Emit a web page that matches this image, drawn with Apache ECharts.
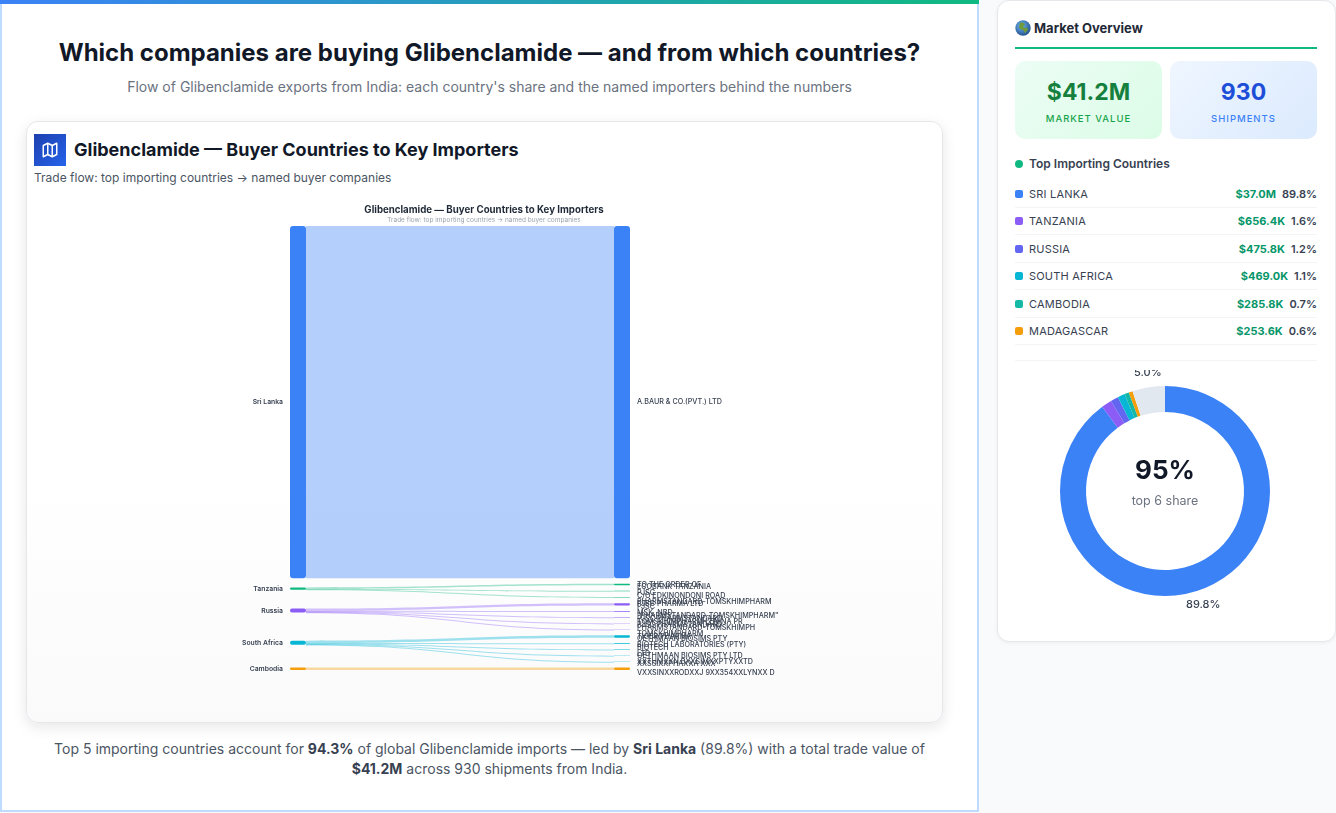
<!DOCTYPE html>
<html>
<head>
<meta charset="utf-8">
<script src="https://cdn.jsdelivr.net/npm/echarts@6/dist/echarts.min.js"></script>
<style>
* { box-sizing: border-box; }
html, body { margin: 0; width: 1336px; height: 813px; overflow: hidden; background: #f8fafc; font-family: Inter, sans-serif; color: #111827; }
.main { position: absolute; left: 0; top: 0; width: 979px; height: 812px; background: #fff; border: 2px solid #bfdbfe; border-top: 0; border-right-width: 2px; }
.topbar { position: absolute; left: 0; top: 0; width: 979px; height: 4px; background: linear-gradient(90deg, #3b82f6, #10b981); }
h1 { position: absolute; left: 0; top: 38px; width: 979px; margin: 0; text-align: center; font-size: 24px; line-height: 30px; font-weight: 700; color: #111827; }
.sub { position: absolute; left: 0; top: 78px; width: 979px; text-align: center; font-size: 14px; line-height: 18px; color: #6b7280; }
.card { position: absolute; left: 26px; top: 121px; width: 917px; height: 602px; border: 1px solid #e5e7eb; border-radius: 12px; background: linear-gradient(180deg, #fff 60%, #fafafb 100%); box-shadow: 0 4px 14px rgba(15, 23, 42, .10); }
.icon { position: absolute; left: 34px; top: 134px; width: 32px; height: 32px; background: linear-gradient(135deg, #1e40af, #2563eb); display: flex; align-items: center; justify-content: center; }
.ctitle { position: absolute; left: 74px; top: 138px; font-size: 18px; line-height: 23px; font-weight: 700; color: #111827; }
.csub { position: absolute; left: 34px; top: 170px; font-size: 12px; line-height: 15px; color: #4b5563; }
#sankey { position: absolute; left: 34px; top: 195px; width: 900px; height: 510px; }
.foot { position: absolute; left: 0; top: 739px; width: 979px; text-align: center; font-size: 14px; line-height: 20px; color: #4b5563; }
.foot b { color: #374151; }
.side { position: absolute; left: 997px; top: 0; width: 339px; height: 642px; background: #fff; border: 1px solid #e5e7eb; border-radius: 12px; box-shadow: 0 1px 4px rgba(15, 23, 42, .05); }
.stitle { position: absolute; left: 1034px; top: 20px; font-size: 13px; line-height: 17px; font-weight: 700; color: #1f2937; }
.globe { position: absolute; left: 1015px; top: 20px; }
.rule { position: absolute; left: 1015px; top: 47px; width: 302px; height: 2px; background: #10b981; }
.kpi { position: absolute; top: 61px; width: 147px; height: 78px; border-radius: 10px; text-align: center; }
.kpi .v { position: absolute; left: 0; width: 100%; top: 16px; font-size: 23px; line-height: 30px; font-weight: 700; }
.kpi .l { position: absolute; left: 0; width: 100%; top: 52px; font-size: 9.5px; line-height: 12px; font-weight: 500; letter-spacing: 1px; }
.k1 { left: 1015px; background: linear-gradient(135deg, #ecfdf5, #dcfce7); }
.k1 .v { color: #15803d; } .k1 .l { color: #16a34a; }
.k2 { left: 1170px; background: linear-gradient(135deg, #eff6ff, #dbeafe); }
.k2 .v { color: #1d4ed8; } .k2 .l { color: #3b82f6; }
.dot { position: absolute; left: 1015px; top: 160px; width: 8px; height: 8px; border-radius: 50%; background: #10b981; }
.thead { position: absolute; left: 1029px; top: 156px; font-size: 12px; line-height: 15px; font-weight: 600; color: #374151; }
.row { position: absolute; left: 1015px; width: 302px; height: 28px; border-bottom: 1px solid #f3f4f6; font-size: 11px; line-height: 28px; display: flex; justify-content: flex-end; gap: 6px; }
.row i { position: absolute; left: 0; top: 10px; width: 8px; height: 8px; border-radius: 2px; }
.row .n { position: absolute; left: 14px; color: #374151; letter-spacing: .2px; }
.row .a { color: #059669; font-weight: 700; }
.row .p { color: #374151; font-weight: 600; }
.div2 { position: absolute; left: 1015px; top: 360px; width: 302px; height: 1px; background: #f3f4f6; }
#pie { position: absolute; left: 1015px; top: 370px; width: 302px; height: 250px; }
.big { position: absolute; left: 1015px; top: 453px; width: 300px; text-align: center; font-size: 26px; line-height: 34px; font-weight: 700; color: #111827; }
.small { position: absolute; left: 1015px; top: 493px; width: 300px; text-align: center; font-size: 12.5px; line-height: 16px; color: #6b7280; }
</style>
</head>
<body>
<div class="main"></div>
<div class="topbar"></div>
<h1>Which companies are buying Glibenclamide — and from which countries?</h1>
<div class="sub">Flow of Glibenclamide exports from India: each country's share and the named importers behind the numbers</div>
<div class="card"></div>
<div class="icon"><svg width="18" height="18" viewBox="0 0 24 24" fill="none" stroke="#fff" stroke-width="2" stroke-linejoin="round"><path d="M3 6l6-3 6 3 6-3v15l-6 3-6-3-6 3z"/><path d="M9 3v15M15 6v15"/></svg></div>
<div class="ctitle">Glibenclamide — Buyer Countries to Key Importers</div>
<div class="csub">Trade flow: top importing countries → named buyer companies</div>
<div id="sankey"></div>
<div class="foot">Top 5 importing countries account for <b>94.3%</b> of global Glibenclamide imports — led by <b>Sri Lanka</b> (89.8%) with a total trade value of<br><b>$41.2M</b> across 930 shipments from India.</div>

<div class="side"></div>
<svg class="globe" width="16" height="16" viewBox="0 0 16 16"><defs><radialGradient id="g" cx=".4" cy=".35" r=".7"><stop offset="0" stop-color="#6fb4ee"/><stop offset="1" stop-color="#1f4e8c"/></radialGradient></defs><circle cx="8" cy="8" r="7.7" fill="url(#g)"/><path d="M5 2.5l4 .5 1 2-2 1 1 2 3-.5 1 2-3 4-1-3-3-1-2-2 .5-3z" fill="#6f9a3a"/></svg>
<div class="stitle">Market Overview</div>
<div class="rule"></div>
<div class="kpi k1"><div class="v">$41.2M</div><div class="l">MARKET VALUE</div></div>
<div class="kpi k2"><div class="v">930</div><div class="l">SHIPMENTS</div></div>
<div class="dot"></div>
<div class="thead">Top Importing Countries</div>
<div id="rows"></div>
<div class="div2"></div>
<div id="pie"></div>
<div class="big">95%</div>
<div class="small">top 6 share</div>

<script>
// sankey data, $M
const countries = ['Sri Lanka', 'Tanzania', 'Russia', 'South Africa', 'Cambodia'];
const countryColors = ['#3b82f6', '#10b981', '#8b5cf6', '#06b6d4', '#f59e0b'];
const buyers = [
    'A.BAUR & CO.(PVT.) LTD',
    'TO THE ORDER OF',
    'ECOBANK TANZANIA\nC/O EDKINONDONI ROAD',
    'PJSC\nPHARMSTANDARD-TOMSKHIMPHARM',
    'PJSC PHARMA LTD',
    'PJSC\n"PHARMSTANDARD-TOMSKHIMPHARM"',
    'MSK, NBD\nTOMSKHIMPHARM LENINA PR',
    'PJSC PHARMSTANDARD\nPHARMSTANDARD-TOMSKHIMPH',
    'PJSC PHARMSTANDARD\nTOMSKHIMPHARM',
    'TIGER PHARMA',
    'OETHMAAN BIOSIMS PTY\nBIOTECH',
    'BIOTECH LABORATORIES (PTY)\nLTD',
    'OETHMAAN BIOSIMS PTY LTD',
    'XXTHMXXN BXXSIMXXPTYXXTD',
    'XXSSIXXPHAXXA XXX\nVXXSINXXRODXXJ 9XX354XXLYNXX D'
];
const buyerCountry = [0, 1, 1, 1, 2, 2, 2, 2, 2, 3, 3, 3, 3, 3, 4];
const buyerValues = [37.0, 0.14, 0.06, 0.05, 0.24, 0.06, 0.05, 0.04, 0.03, 0.24, 0.06, 0.05, 0.04, 0.03, 0.25];

// sidebar table
const topNames = ['SRI LANKA', 'TANZANIA', 'RUSSIA', 'SOUTH AFRICA', 'CAMBODIA', 'MADAGASCAR'];
const topValues = ['$37.0M', '$656.4K', '$475.8K', '$469.0K', '$285.8K', '$253.6K'];
const topShares = [89.8, 1.6, 1.2, 1.1, 0.7, 0.6];
const otherShare = 5.0;
const topColors = ['#3b82f6', '#8b5cf6', '#6366f1', '#06b6d4', '#14b8a6', '#f59e0b'];
const otherColor = '#e2e8f0';

let rowsHtml = '';
topNames.forEach((n, i) => {
    rowsHtml += '<div class="row" style="top:' + (179.5 + i * 27.5) + 'px"><i style="background:' + topColors[i] + '"></i>' +
        '<span class="n">' + n + '</span><span class="a">' + topValues[i] + '</span><span class="p">' + topShares[i].toFixed(1) + '%</span></div>';
});
document.getElementById('rows').innerHTML = rowsHtml;

let nodes = [];
countries.forEach((c, i) => {
    nodes.push({
        name: c,
        itemStyle: { color: countryColors[i] },
        label: { position: 'left', fontWeight: 600, fontSize: 6.8 }
    });
});
buyers.forEach((b, i) => {
    nodes.push({ name: b, itemStyle: { color: countryColors[buyerCountry[i]] } });
});
let links = buyers.map((b, i) => ({ source: countries[buyerCountry[i]], target: b, value: buyerValues[i] }));

let sankeyChart = echarts.init(document.getElementById('sankey'));
sankeyChart.setOption({
    animation: false,
    title: {
        text: 'Glibenclamide — Buyer Countries to Key Importers',
        subtext: 'Trade flow: top importing countries → named buyer companies',
        left: 'center',
        top: 5,
        itemGap: 2,
        textStyle: { fontFamily: 'Inter', fontSize: 9.7, fontWeight: 700, color: '#1f2937' },
        subtextStyle: { fontFamily: 'Inter', fontSize: 6.5, color: '#9ca3af' }
    },
    series: [{
        type: 'sankey',
        left: 256,
        right: 304,
        top: 31,
        bottom: 35,
        nodeWidth: 16,
        nodeGap: 5.65,
        nodeAlign: 'justify',
        layoutIterations: 32,
        data: nodes,
        links: links,
        itemStyle: { borderRadius: 3, borderWidth: 0 },
        lineStyle: { color: 'source', opacity: 0.38, curveness: 0.5 },
        label: { fontFamily: 'Inter', fontSize: 7.2, fontWeight: 500, color: '#374151', lineHeight: 9, distance: 7 },
        emphasis: { disabled: true }
    }]
});

let pieChart = echarts.init(document.getElementById('pie'));
pieChart.setOption({
    animation: false,
    series: [{
        type: 'pie',
        center: [150, 121],
        radius: [79, 105],
        startAngle: 90,
        clockwise: true,
        data: topShares.map((v, i) => ({ name: topNames[i], value: v, itemStyle: { color: topColors[i] } }))
            .concat([{ name: 'Other', value: otherShare, itemStyle: { color: otherColor } }]),
        label: {
            fontFamily: 'Inter',
            fontSize: 11,
            fontWeight: 500,
            color: '#374151',
            formatter: (p) => (p.value >= 5 ? p.value.toFixed(1) + '%' : '')
        },
        labelLine: { show: false, length: 6, length2: 4 },
        // the two visible labels sit closer to the middle than the default
        labelLayout: (p) => (p.dataIndex === 0 ? { dx: -23, dy: 8 } : { dx: 23, dy: -9 }),
        emphasis: { disabled: true }
    }]
});
</script>
</body>
</html>
